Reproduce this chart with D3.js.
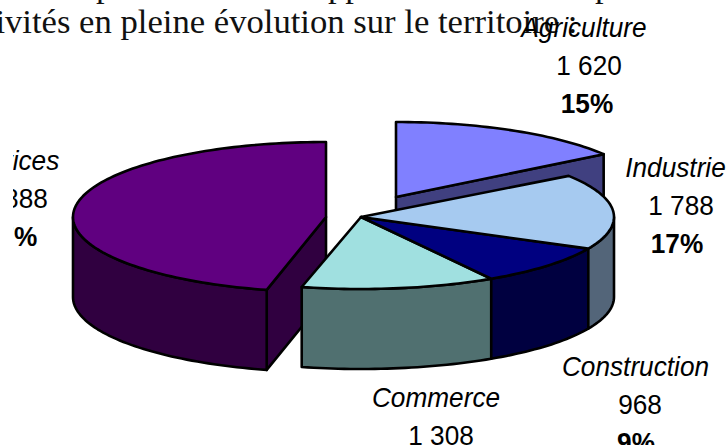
<!DOCTYPE html>
<html><head><meta charset="utf-8">
<script src="https://cdnjs.cloudflare.com/ajax/libs/d3/7.8.5/d3.min.js"></script>
<style>html,body{margin:0;padding:0;background:#fff}svg{display:block}</style>
</head><body><svg id="c" width="728" height="445"></svg>
<script>
const categories=["Agriculture","Industrie","Construction","Commerce","Services"];
const values=[1620,1788,968,1308,4888];
const valueLabels=["1 620","1 788","968","1 308","4 888"];
const percents=["15%","17%","9%","12%","47%"];
const topColors=["#8080ff","#a6caf0","#000080","#a0e0e0","#600080"];
const sideColors=["#404080","#536579","#000040","#507070","#300040"];
const titleText="activités en pleine évolution sur le territoire :";

const W=728,H=445,rx=253,depth=80;
const centers=[[396,197],[361,217],[361,217],[361,217],[326,217]];
const radiiY=[75,72,72,72,75];
const nameX=[584,675.5,635.5,436,9], valueX=[589,681,640,441,15], pctX=[587,677,636,440,11];
const baseY=[37,177,376,407,170], lineStep=38;

const svg=d3.select("#c");
const serif=(t,x,y)=>svg.append("text").attr("transform",`translate(${x},${y}) scale(1.05,1)`)
  .attr("font-family","Liberation Serif").attr("font-size",33).attr("fill","#111").text(t);
serif(titleText,-45,33);
[["p",96],["pp",328],["p",595]].forEach(([t,x])=>serif(t,x,-3));

const arcs=d3.pie().sort(null).startAngle(0).endAngle(2*Math.PI)(values);
const PI=Math.PI;
const pt=(i,a,dz=0)=>[centers[i][0]+rx*Math.sin(a),centers[i][1]-radiiY[i]*Math.cos(a)+dz];
const arcPts=(i,a0,a1,dz=0)=>{const n=Math.max(2,Math.ceil(Math.abs(a1-a0)*40));
  return d3.range(n+1).map(k=>pt(i,a0+(a1-a0)*k/n,dz));};
const line=d3.line();
const g=svg.append("g").attr("stroke","#000").attr("stroke-width",2.6).attr("stroke-linejoin","round");
const poly=(pts,fill)=>g.append("path").attr("d",line(pts)+"Z").attr("fill",fill);

function walls(i){
  const d=arcs[i],c=centers[i],s=sideColors[i];
  if(i===0){const e=pt(i,d.endAngle);poly([c,e,[e[0],e[1]+depth],[c[0],c[1]+depth]],s);}
  if(i===4){const e=pt(i,d.startAngle);poly([e,c,[c[0],c[1]+depth],[e[0],e[1]+depth]],s);}
  const a0=Math.max(d.startAngle,PI/2),a1=Math.min(d.endAngle,3*PI/2);
  if(a1>a0) poly(arcPts(i,a0,a1).concat(arcPts(i,a1,a0,depth)),s);
}
const face=i=>poly([centers[i]].concat(arcPts(i,arcs[i].startAngle,arcs[i].endAngle)),topColors[i]);
[4,0].forEach(i=>{walls(i);face(i);});
[3,2,1].forEach(walls);
[3,2,1].forEach(face);

svg.append("clipPath").attr("id","lc").append("rect").attr("x",13).attr("y",0).attr("width",W).attr("height",H);
const lab=svg.append("g").attr("clip-path","url(#lc)").attr("font-family","Liberation Sans").attr("font-size",28.5).attr("text-anchor","middle").attr("fill","#000");
const put=(x,y,t)=>lab.append("text").attr("transform",`translate(${x},${y}) scale(0.92,1)`).text(t);
categories.forEach((n,i)=>{
  put(nameX[i],baseY[i],n).attr("font-style","italic");
  put(valueX[i],baseY[i]+lineStep,valueLabels[i]);
  put(pctX[i],baseY[i]+2*lineStep,percents[i]).attr("font-weight","bold");
});
</script></body></html>
